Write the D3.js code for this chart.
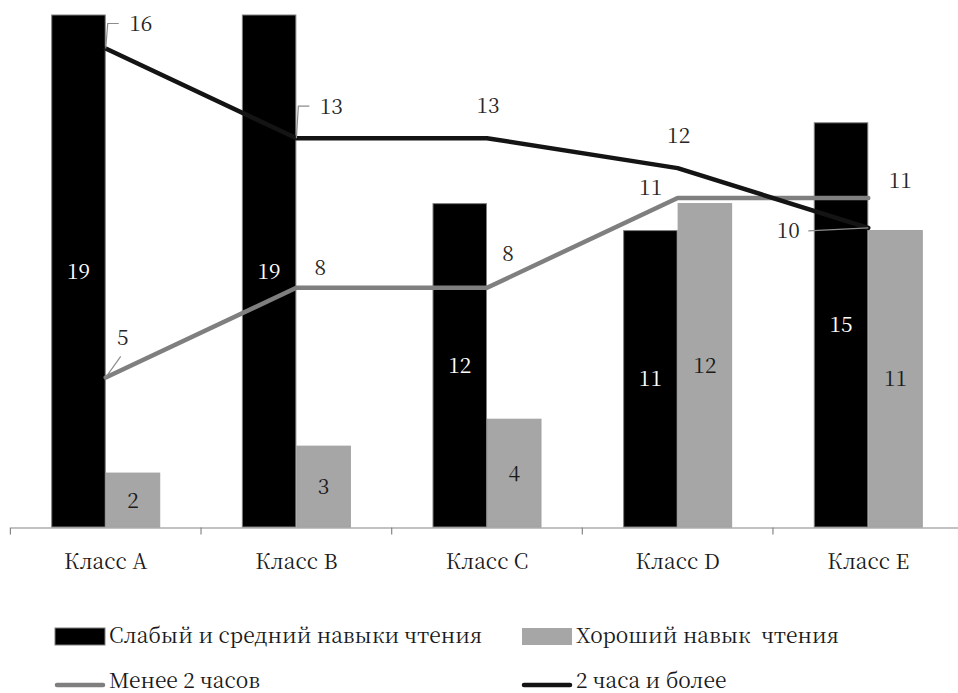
<!DOCTYPE html>
<html>
<head>
<meta charset="utf-8">
<script src="https://cdn.jsdelivr.net/npm/d3@7/dist/d3.min.js"></script>
<style>
  html, body { margin: 0; padding: 0; background: #fff; }
  svg { display: block; }
</style>
</head>
<body>
<svg id="chart" width="958" height="693"></svg>
<script>
// Classes on the category axis
const categories = ["Класс A", "Класс B", "Класс C", "Класс D", "Класс E"];
// Bar series (left axis)
const weakReading = [19, 19, 12, 11, 15];
const goodReading = [2, 3, 4, 12, 11];
// Line series (right axis)
const lessThan2h = [5, 8, 8, 11, 11];
const twoHoursPlus = [16, 13, 13, 12, 10];

const barSeriesNames = ["Слабый и средний навыки чтения", "Хороший навык  чтения"];
const lineSeriesNames = ["Менее 2 часов", "2 часа и более"];

// Label placement offsets (dx, dy) relative to each line point, plus leader flag
const lessLabelOffsets = [[17, -40, true], [24, -20, false], [21, -34, false], [-27, -11, false], [32, -18, false]];
const plusLabelOffsets = [[35, -25, true], [35, -32, true], [1, -33, false], [1, -33, false], [-80, 3, true]];

const FONT = '"Noto Serif CJK SC", "Liberation Serif", serif';
const svg = d3.select("#chart");
const plot = { left: 10.4, right: 963.6, top: 15, bottom: 527 };

const x = d3.scaleBand().domain(categories).range([plot.left, plot.right]).padding(0);
const xSub = d3.scaleBand().domain([0, 1]).range([0, x.bandwidth()]).paddingInner(0).paddingOuter(0.749);
const y = d3.scaleLinear().domain([0, 19]).range([plot.bottom, plot.top]);
const y2 = d3.scaleLinear().domain([0, 17.12]).range([plot.bottom, plot.top]);

const fontSize = 21;
const barColors = ["#000000", "#a6a6a6"];
const barStroke = ["#7f7f7f", "#a0a0a0"];
const lineColors = ["#7f7f7f", "#141414"];

function styleText(sel) {
  return sel.style("font-family", FONT)
    .style("font-size", fontSize + "px")
    .style("white-space", "pre");
}

// Bars
const barData = [weakReading, goodReading];
barData.forEach((vals, s) => {
  svg.append("g").selectAll("rect")
    .data(vals)
    .join("rect")
    .attr("x", (d, i) => x(categories[i]) + xSub(s) + 0.5)
    .attr("y", d => y(d))
    .attr("width", xSub.bandwidth() - 1)
    .attr("height", d => y(0) - y(d))
    .attr("fill", barColors[s])
    .attr("stroke", barStroke[s])
    .attr("stroke-width", 1);
});

// Bar value labels, centred in each bar
barData.forEach((vals, s) => {
  svg.append("g").selectAll("text")
    .data(vals)
    .join("text")
    .attr("x", (d, i) => x(categories[i]) + xSub(s) + xSub.bandwidth() / 2)
    .attr("y", d => (y(d) + y(0)) / 2)
    .attr("dy", "0.36em")
    .attr("text-anchor", "middle")
    .attr("fill", s === 0 ? "#ffffff" : "#1a1a1a")
    .call(styleText)
    .text(d => d);
});

// Category axis
const axis = svg.append("g")
  .attr("transform", `translate(0,${plot.bottom + 0.5})`)
  .call(d3.axisBottom(x).tickSize(0).tickPadding(0));
axis.select(".domain").attr("stroke", "#868686").attr("stroke-width", 1.2);
axis.selectAll(".tick text")
  .attr("fill", "#1a1a1a")
  .attr("y", 41.5)
  .attr("dy", 0)
  .call(styleText);
// tick marks between categories
const edges = categories.map(c => x(c)).concat([x(categories[categories.length - 1]) + x.bandwidth()]);
axis.selectAll("line.sep")
  .data(edges)
  .join("line")
  .attr("class", "sep")
  .attr("x1", d => d).attr("x2", d => d)
  .attr("y1", 0).attr("y2", 7)
  .attr("stroke", "#868686").attr("stroke-width", 1.2);

// Lines
const cx = i => x(categories[i]) + x.bandwidth() / 2;
const lineGen = d3.line().x((d, i) => cx(i)).y(d => y2(d));
[lessThan2h, twoHoursPlus].forEach((vals, s) => {
  svg.append("path")
    .datum(vals)
    .attr("d", lineGen)
    .attr("fill", "none")
    .attr("stroke", lineColors[s])
    .attr("stroke-width", 4.5)
    .attr("stroke-linejoin", "round")
    .attr("stroke-linecap", "round");
});

// Line value labels with leader lines
function lineLabels(vals, offsets) {
  const g = svg.append("g");
  vals.forEach((d, i) => {
    const px = cx(i), py = y2(d);
    const [dx, dy, leader] = offsets[i];
    const lx = px + dx, ly = py + dy;
    if (leader) {
      let pts;
      if (dx > 25) {
        // elbow leader going up then right
        pts = [[px, py], [px + 2, ly], [lx - 22, ly]];
      } else if (dx < 0) {
        pts = [[px, py], [lx + 20, ly]];
      } else {
        pts = [[px, py], [lx - 2, ly + 19]];
      }
      g.append("path")
        .attr("d", d3.line()(pts))
        .attr("fill", "none")
        .attr("stroke", "#8c8c8c")
        .attr("stroke-width", 1.2);
    }
    g.append("text")
      .attr("x", lx)
      .attr("y", ly)
      .attr("dy", "0.36em")
      .attr("text-anchor", "middle")
      .attr("fill", "#262626")
      .call(styleText)
      .text(d);
  });
}
lineLabels(lessThan2h, lessLabelOffsets);
lineLabels(twoHoursPlus, plusLabelOffsets);

// Legend
const legendItems = [
  { name: barSeriesNames[0], kind: "rect", color: barColors[0], col: 0, row: 0 },
  { name: barSeriesNames[1], kind: "rect", color: barColors[1], col: 1, row: 0 },
  { name: lineSeriesNames[0], kind: "line", color: lineColors[0], col: 0, row: 1 },
  { name: lineSeriesNames[1], kind: "line", color: lineColors[1], col: 1, row: 1 }
];
const legendCols = [55, 522];
const legendRows = [635.5, 680.5];
const legend = svg.append("g");
legendItems.forEach(it => {
  const lx = legendCols[it.col], ly = legendRows[it.row];
  if (it.kind === "rect") {
    legend.append("rect")
      .attr("x", lx).attr("y", ly - 7.5)
      .attr("width", 50).attr("height", 17)
      .attr("fill", it.color)
      .attr("stroke", it.col === 0 ? "#7f7f7f" : "none");
  } else {
    legend.append("line")
      .attr("x1", lx + 2).attr("x2", lx + 48)
      .attr("y1", ly + 4.5).attr("y2", ly + 4.5)
      .attr("stroke", it.color)
      .attr("stroke-width", 4.5)
      .attr("stroke-linecap", "round");
  }
  legend.append("text")
    .attr("x", lx + 54)
    .attr("y", ly)
    .attr("dy", "0.36em")
    .attr("fill", "#1a1a1a")
    .call(styleText)
    .text(it.name);
});
</script>
</body>
</html>
